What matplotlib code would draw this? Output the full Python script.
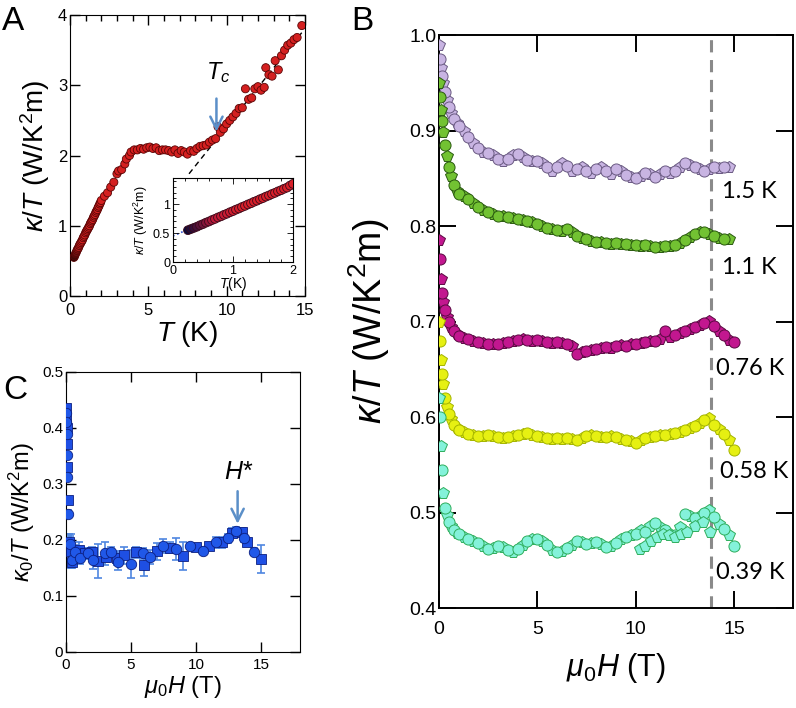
import numpy as np
import matplotlib
matplotlib.use('Agg')
import matplotlib.pyplot as plt
from matplotlib.colors import LinearSegmentedColormap

plt.rcParams['font.family'] = ['Liberation Sans', 'DejaVu Sans']
plt.rcParams['mathtext.fontset'] = 'custom'
plt.rcParams['mathtext.rm'] = 'Liberation Sans'
plt.rcParams['mathtext.it'] = 'Liberation Sans:italic'

# ---- panel A: kappa/T vs T ----
T_A = [0.25, 0.3, 0.35, 0.4, 0.45, 0.5, 0.55, 0.6, 0.65, 0.7, 0.75, 0.8, 0.85, 0.9,
       0.95, 1.0, 1.05, 1.1, 1.15, 1.2, 1.25, 1.3, 1.35, 1.4, 1.45, 1.5, 1.55, 1.6,
       1.65, 1.7, 1.75, 1.8, 1.85, 1.9, 1.95, 2.0, 2.2, 2.4, 2.6, 2.8, 3.0, 3.1, 3.3,
       3.5, 3.6, 3.8, 3.9, 4.1, 4.3, 4.5, 4.7, 4.9, 5.1, 5.3, 5.5, 5.7, 5.9, 6.1, 6.3,
       6.5, 6.7, 6.9, 7.1, 7.3, 7.5, 7.7, 7.9, 8.1, 8.3, 8.5, 8.7, 8.9, 9.1, 9.3, 9.45,
       9.6, 9.8, 10.0, 10.2, 10.4, 10.6, 10.8, 11.0, 11.2, 11.4, 11.6, 11.8, 12.0, 12.2,
       12.4, 12.5, 12.7, 12.9, 13.1, 13.3, 13.5, 13.7, 13.9, 14.1, 14.3, 14.5, 14.8]
K_A = [0.55, 0.57, 0.6, 0.62, 0.65, 0.67, 0.69, 0.72, 0.74, 0.76, 0.78, 0.8, 0.83, 0.85,
       0.87, 0.9, 0.92, 0.94, 0.96, 0.98, 1.0, 1.03, 1.05, 1.07, 1.09, 1.12, 1.14, 1.16,
       1.19, 1.21, 1.23, 1.26, 1.28, 1.31, 1.33, 1.36, 1.42, 1.47, 1.55, 1.62, 1.74, 1.78, 1.8,
       1.88, 1.95, 2.0, 2.05, 2.08, 2.08, 2.1, 2.09, 2.11, 2.12, 2.1, 2.11, 2.07, 2.08, 2.08, 2.07,
       2.05, 2.08, 2.03, 2.07, 2.05, 2.02, 2.07, 2.06, 2.1, 2.13, 2.14, 2.15, 2.19, 2.22, 2.24, 2.41,
       2.33, 2.38, 2.45, 2.5, 2.55, 2.6, 2.67, 2.68, 2.95, 2.8, 2.82, 2.95, 2.98, 2.93,
       2.97, 3.25, 3.15, 3.13, 3.35, 3.22, 3.42, 3.5, 3.57, 3.6, 3.65, 3.68, 3.85]
fit_A_T = [7.6, 14.8]
fit_A_K = [1.74, 3.75]

# inset: low-T data
T_in = [0.25, 0.3, 0.35, 0.4, 0.45, 0.5, 0.55, 0.6, 0.65, 0.7, 0.75, 0.8, 0.85, 0.9,
        0.95, 1.0, 1.05, 1.1, 1.15, 1.2, 1.25, 1.3, 1.35, 1.4, 1.45, 1.5, 1.55, 1.6,
        1.65, 1.7, 1.75, 1.8, 1.85, 1.9, 1.95, 2.0]
K_in = [0.55, 0.57, 0.59, 0.61, 0.635, 0.655, 0.68, 0.7, 0.725, 0.745, 0.77, 0.79, 0.815,
        0.835, 0.86, 0.88, 0.905, 0.925, 0.95, 0.97, 0.995, 1.015, 1.04, 1.06, 1.085, 1.105,
        1.13, 1.15, 1.175, 1.195, 1.22, 1.24, 1.265, 1.285, 1.32, 1.35]
fit_in_T = [0.0, 0.4]
fit_in_K = [0.45, 0.63]

# ---- panel B: kappa/T vs field at several temperatures ----
H_low = [0, 0.05, 0.1, 0.15, 0.2, 0.3, 0.4, 0.5, 0.6, 0.75, 0.9]
H_mid = list(np.arange(1.0, 14.8, 0.25))
H_end = [15.0]

K_150 = [0.99, 0.975, 0.965, 0.957, 0.95, 0.94, 0.932, 0.925, 0.918, 0.912, 0.908,
         0.905, 0.900, 0.893, 0.887, 0.882, 0.878, 0.876, 0.874,
         0.870, 0.868, 0.870, 0.874, 0.875, 0.872, 0.869, 0.868,
         0.868, 0.866, 0.862, 0.858, 0.862, 0.866, 0.863, 0.858,
         0.860, 0.862, 0.858, 0.856, 0.860, 0.862, 0.858, 0.855,
         0.860, 0.858, 0.853, 0.851, 0.850, 0.852, 0.856, 0.855,
         0.851, 0.855, 0.858, 0.856, 0.858, 0.862, 0.866, 0.864,
         0.862, 0.860, 0.858, 0.860, 0.862, 0.861, 0.862, 0.862]
K_110 = [0.95, 0.935, 0.922, 0.91, 0.898, 0.885, 0.873, 0.862, 0.852, 0.843, 0.837,
         0.834, 0.831, 0.828, 0.824, 0.820, 0.817, 0.815, 0.813,
         0.811, 0.810, 0.809, 0.808, 0.807, 0.806, 0.805, 0.804,
         0.802, 0.800, 0.798, 0.797, 0.796, 0.795, 0.797, 0.794,
         0.790, 0.787, 0.786, 0.784, 0.783, 0.783, 0.782, 0.781,
         0.782, 0.781, 0.781, 0.780, 0.780, 0.779, 0.780, 0.779,
         0.778, 0.778, 0.779, 0.779, 0.780, 0.782, 0.785, 0.789,
         0.792, 0.794, 0.794, 0.792, 0.790, 0.788, 0.786, 0.786]
K_076 = [0.785, 0.765, 0.745, 0.73, 0.72, 0.712, 0.705, 0.699, 0.694, 0.69, 0.687,
         0.685, 0.683, 0.682, 0.680, 0.679, 0.678, 0.677, 0.676,
         0.677, 0.678, 0.679, 0.680, 0.681, 0.682, 0.681, 0.680,
         0.681, 0.680, 0.679, 0.678, 0.679, 0.678, 0.676, 0.674,
         0.666, 0.668, 0.669, 0.670, 0.671, 0.672, 0.673, 0.672,
         0.674, 0.675, 0.674, 0.676, 0.677, 0.678, 0.679, 0.680,
         0.680, 0.682, 0.690, 0.684, 0.686, 0.688, 0.690, 0.692,
         0.694, 0.696, 0.698, 0.701, 0.695, 0.690, 0.686, 0.681,
         0.679]
K_058 = [0.70, 0.68, 0.66, 0.645, 0.635, 0.62, 0.61, 0.603, 0.598, 0.592, 0.588,
         0.586, 0.584, 0.582, 0.581, 0.580, 0.580, 0.581, 0.580,
         0.579, 0.578, 0.579, 0.580, 0.581, 0.582, 0.583, 0.581,
         0.580, 0.579, 0.578, 0.577, 0.578, 0.577, 0.578, 0.577,
         0.576, 0.578, 0.580, 0.581, 0.580, 0.579, 0.579, 0.580,
         0.579, 0.577, 0.576, 0.575, 0.573, 0.576, 0.578, 0.579,
         0.580, 0.581, 0.581, 0.582, 0.583, 0.584, 0.586, 0.589,
         0.591, 0.594, 0.597, 0.599, 0.592, 0.587, 0.582, 0.576,
         0.566]
K_039 = [0.62, 0.60, 0.57, 0.545, 0.52, 0.505, 0.497, 0.49, 0.486, 0.482, 0.479,
         0.477, 0.474, 0.472, 0.470, 0.468, 0.465, 0.462, 0.463,
         0.465, 0.464, 0.461, 0.459, 0.462, 0.466, 0.470, 0.472,
         0.472, 0.470, 0.466, 0.461, 0.459, 0.460, 0.463, 0.466,
         0.470, 0.469, 0.467, 0.468, 0.469, 0.467, 0.464, 0.465,
         0.468, 0.472, 0.474, 0.476, 0.478, 0.482, 0.480, 0.486,
         0.489, 0.485, 0.482, 0.478, 0.476, 0.485, 0.498, 0.496,
         0.494, 0.496, 0.500, 0.503, 0.495, 0.488, 0.483, 0.476,
         0.465]
# second sweep at 0.39 K, high field part
H_039b = [10.2, 10.5, 10.8, 11.1, 11.4, 11.7, 12.0, 12.3, 12.6, 13.0, 13.4, 13.8]
K_039b = [0.462, 0.465, 0.470, 0.474, 0.478, 0.476, 0.474, 0.478, 0.480, 0.486, 0.490, 0.480]
H_star = 13.85
labels_B = ['1.5 K', '1.1 K', '0.76 K', '0.58 K', '0.39 K']

# ---- panel C: kappa_0/T vs field ----
H_C = [0.0, 0.0, 0.02, 0.03, 0.04, 0.05, 0.05, 0.06, 0.08, 0.08, 0.12, 0.18, 0.25, 0.3,
       0.4, 0.45, 0.5, 0.7, 1.0, 1.05, 1.45, 1.7, 2.0, 2.05, 2.5, 3.0, 3.05, 3.5, 3.9, 4.0,
       4.5, 5.0, 5.4, 5.9, 6.0, 6.5, 7.0, 7.5, 8.0, 8.5, 9.0, 9.5, 10.0, 10.5, 11.0, 11.5,
       12.0, 12.45, 12.75, 13.1, 13.5, 13.7, 13.9, 14.45, 15.0]
K_C = [0.435, 0.426, 0.42, 0.41, 0.40, 0.39, 0.372, 0.351, 0.33, 0.312, 0.271, 0.247,
       0.196, 0.193, 0.18, 0.164, 0.16, 0.179, 0.182, 0.168, 0.176, 0.176, 0.178, 0.164,
       0.163, 0.176, 0.17, 0.178, 0.168, 0.161, 0.173, 0.157, 0.178, 0.176, 0.156, 0.17,
       0.18, 0.189, 0.186, 0.184, 0.172, 0.189, 0.188, 0.181, 0.189, 0.196, 0.196, 0.203,
       0.213, 0.216, 0.215, 0.203, 0.196, 0.179, 0.166]
E_C = [0.004, 0.004, 0.004, 0.004, 0.005, 0.005, 0.005, 0.005, 0.006, 0.006, 0.006, 0.006,
       0.015, 0.015, 0.03, 0.012, 0.01, 0.012, 0.015, 0.01, 0.01, 0.01, 0.01, 0.015,
       0.03, 0.02, 0.01, 0.01, 0.012, 0.015, 0.015, 0.025, 0.01, 0.01, 0.02, 0.012,
       0.015, 0.012, 0.01, 0.02, 0.025, 0.005, 0.005, 0.006, 0.006, 0.01, 0.01, 0.008,
       0.008, 0.008, 0.006, 0.006, 0.006, 0.006, 0.025]

fig = plt.figure(figsize=(7.96, 7.08), dpi=100)


def style_ticks(ax, size, length, width=1.0, pad=3):
    ax.tick_params(which='both', direction='in', top=True, right=True,
                   labelsize=size, width=width, pad=pad)
    ax.tick_params(which='major', length=length)
    ax.tick_params(which='minor', length=length * 0.6)


# panel A
axA = fig.add_axes([0.0879, 0.5819, 0.2952, 0.3969])
axA.plot(fit_A_T, fit_A_K, color='black', ls=(0, (4, 3)), lw=1.0, zorder=1)
cA = LinearSegmentedColormap.from_list('cA', ['#2a0606', '#d42020'])
colA = [cA(min(1.0, i / 8)) for i in range(len(T_A))]
axA.scatter(T_A, K_A, s=34, c=colA, edgecolors='#5a0505', linewidths=0.6, zorder=3)
axA.set_xlim(0, 15)
axA.set_ylim(0, 4)
axA.set_xticks([0, 5, 10, 15])
axA.set_xticks(np.arange(0, 16), minor=True)
axA.set_yticks([0, 1, 2, 3, 4])
style_ticks(axA, 12, 7, 1.0, 2)
axA.tick_params(axis='x', pad=5)
axA.set_xlabel(r'$T$ (K)', fontsize=20, labelpad=1)
axA.set_ylabel(r'$\kappa/T$ (W/K$^2$m)', fontsize=20, labelpad=4)
axA.annotate('', xy=(9.35, 2.3), xytext=(9.35, 2.85),
             arrowprops=dict(arrowstyle='->', color='#5b8fc8', lw=1.8,
                             mutation_scale=22))
axA.text(9.45, 3.0, r'$T_c$', fontsize=17, ha='center', va='bottom')

# inset
axI = fig.add_axes([0.2173, 0.6299, 0.1508, 0.1186])
axI.plot(fit_in_T, fit_in_K, color='#3050d0', ls=':', lw=1.2, zorder=1)
cI = LinearSegmentedColormap.from_list('cI', ['#0c0c3a', '#c01a3a', '#d8202a'])
colI = [cI(min(1.0, i / 18)) for i in range(len(T_in))]
axI.scatter(T_in, K_in, s=40, c=colI, edgecolors='#3a0a1a', linewidths=0.6, zorder=3)
axI.set_xlim(0, 2)
axI.set_ylim(0, 1.45)
axI.set_xticks([0, 1, 2])
axI.set_xticks(np.arange(0, 2.01, 0.2), minor=True)
axI.set_yticks([0, 0.5, 1])
axI.set_yticks(np.arange(0, 1.41, 0.1), minor=True)
style_ticks(axI, 9, 4, 0.6, 2)
axI.set_yticklabels(['0', '0.5', '1'])
axI.set_xlabel(r'$T$(K)', fontsize=10, labelpad=-1)
axI.set_ylabel(r'$\kappa/T$ (W/K$^2$m)', fontsize=9, labelpad=2)

# panel C
axC = fig.add_axes([0.0829, 0.0791, 0.294, 0.3955])
axC.errorbar(H_C, K_C, yerr=E_C, fmt='none', ecolor='#4f86e0', elinewidth=1.2,
             capsize=3, capthick=1.2, zorder=2)
axC.plot(H_C[::2], K_C[::2], 's', ms=7, mfc='#1e4fe4', mec='#0c1f80', mew=0.6, zorder=3)
axC.plot(H_C[1::2], K_C[1::2], 'o', ms=7.5, mfc='#2058e8', mec='#0c1f80', mew=0.6, zorder=3)
axC.set_xlim(0, 18)
axC.set_ylim(0, 0.5)
axC.set_xticks([0, 5, 10, 15])
axC.set_yticks([0, 0.1, 0.2, 0.3, 0.4, 0.5])
style_ticks(axC, 11, 7, 1.0, 2)
axC.tick_params(axis='x', pad=4)
axC.set_yticklabels(['0', '0.1', '0.2', '0.3', '0.4', '0.5'])
axC.set_xlabel(r'$\mu_0H$ (T)', fontsize=17, labelpad=2)
axC.set_ylabel(r'$\kappa_0/T$ (W/K$^2$m)', fontsize=17, labelpad=4)
axC.annotate('', xy=(13.2, 0.224), xytext=(13.2, 0.292),
             arrowprops=dict(arrowstyle='->', color='#5b8fc8', lw=1.8,
                             mutation_scale=22))
axC.text(13.3, 0.3, r'$H$*', fontsize=18, ha='center', va='bottom')

# panel B
axB = fig.add_axes([0.5515, 0.1412, 0.4447, 0.8093])
curves = [
    (K_150, '#c8b4e2', '#6a5a82', False),
    (K_110, '#72c232', '#2a5a10', False),
    (K_076, '#c2178f', '#5a0a42', True),
    (K_058, '#e6f012', '#a4b400', True),
    (K_039, '#84f2da', '#2fae5c', True),
]
for vals, face, edge, ext in curves:
    H = np.array(H_low + H_mid + (H_end if ext else []))
    v = np.array(vals)
    axB.plot(H[::2], v[::2], 'p', ms=8.5, mfc=face, mec=edge, mew=0.7, zorder=3)
    axB.plot(H[1::2], v[1::2], 'o', ms=8, mfc=face, mec=edge, mew=0.7, zorder=3)
axB.plot(H_039b, K_039b, 'p', ms=8.5, mfc='#84f2da', mec='#2fae5c', mew=0.7, zorder=3)
axB.axvline(H_star, color='#8a8a8a', ls=(0, (4, 2.5)), lw=2.2, zorder=1)
label_y = [0.836, 0.757, 0.651, 0.543, 0.437]
label_x = [14.4, 14.4, 14.1, 14.3, 14.1]
for lab, lx, ly in zip(labels_B, label_x, label_y):
    axB.text(lx, ly, lab, fontsize=17, family=['Lato', 'DejaVu Sans'],
             ha='left', va='center')
axB.set_xlim(0, 18)
axB.set_ylim(0.4, 1.0)
axB.set_xticks([0, 5, 10, 15])
axB.set_yticks([0.4, 0.5, 0.6, 0.7, 0.8, 0.9, 1.0])
for s in axB.spines.values():
    s.set_linewidth(1.4)
style_ticks(axB, 14, 12, 1.4, 2)
axB.tick_params(axis='x', pad=9)
axB.set_yticklabels(['0.4', '0.5', '0.6', '0.7', '0.8', '0.9', '1.0'])
axB.set_xlabel(r'$\mu_0H$ (T)', fontsize=22, labelpad=10)
axB.set_ylabel(r'$\kappa/T$ (W/K$^2$m)', fontsize=27, labelpad=12)

fig.text(0.016, 0.969, 'A', fontsize=24, ha='center', va='center')
fig.text(0.455, 0.969, 'B', fontsize=24, ha='center', va='center')
fig.text(0.019, 0.448, 'C', fontsize=24, ha='center', va='center')

fig.savefig('out.png', dpi=100)
